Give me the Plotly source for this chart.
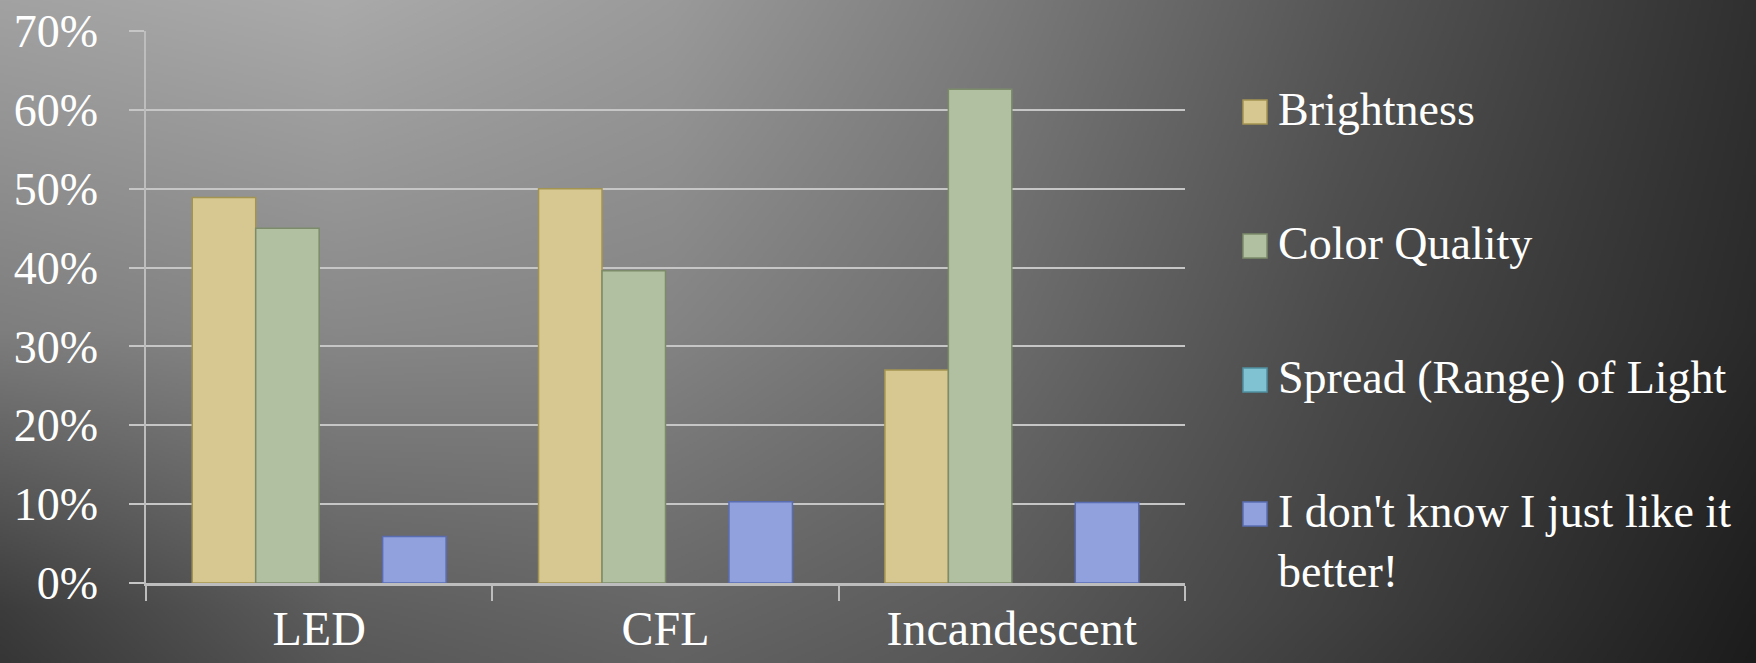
import base64
import struct
import zlib

import numpy as np
import plotly.graph_objects as go

# ---------------- data ----------------
categories = ["LED", "CFL", "Incandescent"]
series_names = [
    "Brightness",
    "Color Quality",
    "Spread (Range) of Light",
    "I don't know I just like it<br>better!",
]
brightness = [0.489, 0.500, 0.270]
color_quality = [0.450, 0.396, 0.626]
spread = [0.0, 0.0, 0.0]
dont_know = [0.059, 0.103, 0.102]
y_ticks = [0, 0.1, 0.2, 0.3, 0.4, 0.5, 0.6, 0.7]

series_values = [brightness, color_quality, spread, dont_know]
fill_colors = ["#d6c890", "#b0c0a0", "#80c2d2", "#90a1dd"]
line_colors = ["#a49452", "#7c8c6a", "#4f90a0", "#5a6db2"]
line_widths = [1.5, 1.5, 0, 1.5]

# ---------------- geometry ----------------
W, H = 1756, 663
L, R, T, B = 146, 571, 31, 80
PW, PH = W - L - R, H - T - B
FONT = "Liberation Serif"


def px_x(x):
    return (x - L) / PW


def px_y(y):
    return (H - B - y) / PH


# ---------------- background gradient (png) ----------------
def make_png(gray):
    h, w = gray.shape
    raw = b"".join(b"\x00" + row.tobytes() for row in gray)

    def chunk(tag, data):
        c = struct.pack(">I", len(data)) + tag + data
        return c + struct.pack(">I", zlib.crc32(tag + data) & 0xFFFFFFFF)

    ihdr = struct.pack(">IIBBBBB", w, h, 8, 0, 0, 0, 0)
    png = (b"\x89PNG\r\n\x1a\n" + chunk(b"IHDR", ihdr)
           + chunk(b"IDAT", zlib.compress(raw, 9)) + chunk(b"IEND", b""))
    return "data:image/png;base64," + base64.b64encode(png).decode()


kx = np.array([0, 336, 672, 1008, 1344, 1756], dtype=float)
ky = np.array([0, 330, 610, 663], dtype=float)
kv = np.array([
    [162, 170, 154, 122, 86, 48],
    [126, 136, 132, 108, 74, 42],
    [60, 94, 103, 90, 64, 30],
    [54, 88, 98, 86, 60, 28],
], dtype=float)
sc = 2
gx = np.arange(0, W, sc, dtype=float)
gy = np.arange(0, H, sc, dtype=float)
rows = np.array([np.interp(gx, kx, r) for r in kv])
grid = np.array([[np.interp(yy, ky, rows[:, i]) for i in range(len(gx))] for yy in gy])
bg_src = make_png(np.clip(grid, 0, 255).astype(np.uint8))

# ---------------- figure ----------------
fig = go.Figure()
for name, vals, fc, lc, lw in zip(series_names, series_values, fill_colors,
                                  line_colors, line_widths):
    fig.add_trace(go.Bar(
        x=categories, y=vals, name=name,
        marker=dict(color=fc, line=dict(color=lc, width=lw)),
        showlegend=False,
    ))

fig.add_layout_image(dict(
    source=bg_src, xref="paper", yref="paper",
    x=-L / PW, y=1 + T / PH, sizex=W / PW, sizey=H / PH,
    xanchor="left", yanchor="top", sizing="stretch", layer="below",
))

# legend (drawn manually to match the large bevelled markers)
legend_centers = [112, 246, 380, 514]
for name, fc, lc, cy in zip(series_names, fill_colors, line_colors, legend_centers):
    fig.add_shape(type="rect", xref="paper", yref="paper",
                  x0=px_x(1243), x1=px_x(1267), y0=px_y(cy + 12), y1=px_y(cy - 12),
                  fillcolor=fc, line=dict(color=lc, width=1.5))
    fig.add_annotation(xref="paper", yref="paper", x=px_x(1276), y=px_y(cy - 30),
                       text=name, showarrow=False, xanchor="left", yanchor="top",
                       align="left", font=dict(family=FONT, size=46, color="white"))

grid_col = "#c6c6c6"
fig.update_layout(
    width=W, height=H,
    margin=dict(l=L, r=R, t=T, b=B, pad=0, autoexpand=False),
    barmode="group", bargap=0.267, bargroupgap=0,
    paper_bgcolor="#5a5a5a", plot_bgcolor="rgba(0,0,0,0)",
    showlegend=False,
    font=dict(family=FONT, color="white", size=46),
)
fig.update_xaxes(
    type="category", showline=True, linecolor="#bdbdbd", linewidth=2.5,
    ticks="outside", tickson="boundaries", ticklen=15, tickcolor="#bdbdbd", tickwidth=1.5,
    tickfont=dict(family=FONT, size=48, color="white"), showgrid=False,
    ticklabelstandoff=2, automargin=False,
)
fig.update_yaxes(
    range=[0, 0.7], tickvals=y_ticks, tickformat=".0%",
    showgrid=True, gridcolor=grid_col, gridwidth=2,
    ticks="outside", ticklen=15, tickcolor=grid_col, tickwidth=2,
    showline=True, linecolor="#bdbdbd", linewidth=1.5, zeroline=False,
    tickfont=dict(family=FONT, size=46, color="white"),
    ticklabelstandoff=22, automargin=False,
)

fig.write_html(
    "out.html",
    config={"displayModeBar": False},
    post_script="document.body.style.margin='0';document.body.style.background='#303030';",
)
